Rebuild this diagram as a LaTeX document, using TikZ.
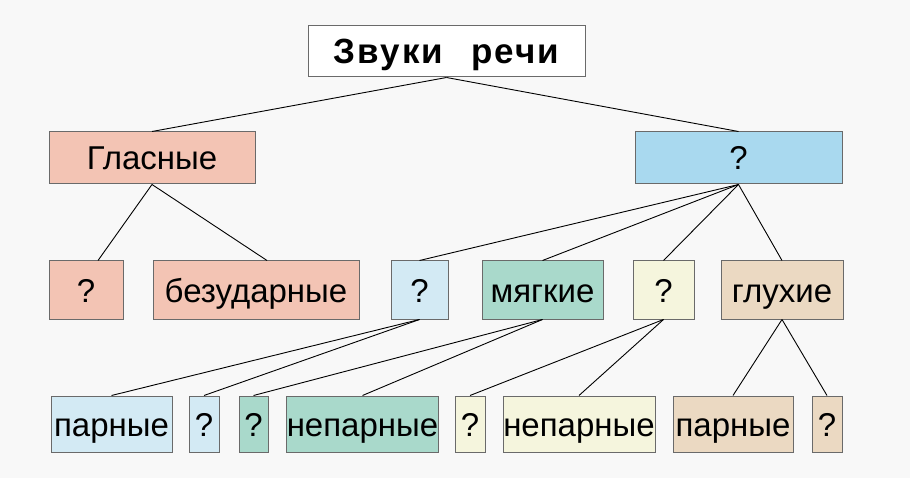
\documentclass[tikz,border=0pt]{standalone}
\usepackage{fontspec}
\setmainfont{Liberation Sans}
\newfontfamily\titlefont[LetterSpace=6]{Liberation Sans Bold}
\definecolor{bg}{HTML}{F8F8F8}
\definecolor{salmon}{HTML}{F3C4B4}
\definecolor{blueB}{HTML}{A9D9EF}
\definecolor{blueL}{HTML}{D3EAF4}
\definecolor{tealc}{HTML}{A9D9CB}
\definecolor{yel}{HTML}{F5F5DD}
\definecolor{tanc}{HTML}{EBD9C2}
\definecolor{edge}{HTML}{6A6A6A}
\begin{document}
\begin{tikzpicture}[x=1pt,y=-1pt,
  box/.style={draw=edge, line width=1pt, inner sep=0pt, text height=31pt, text depth=7pt,
    font=\fontsize{33}{36}\selectfont},
  link/.style={draw=black, line width=0.9pt}]
\fill[bg] (0,0) rectangle (910,478);
\useasboundingbox (0,0) rectangle (910,478);
% top
\node[draw=edge, line width=1pt, fill=white, inner sep=0pt, minimum width=277pt, minimum height=51pt,
  text height=31pt, text depth=7pt, font=\titlefont\fontsize{35}{38}\selectfont] (top) at (446.5,51.5) {Звуки\hspace{28pt}речи};
% level 1
\node[box, fill=salmon, minimum width=206pt, minimum height=52pt] (gl) at (152,158) {Гласные};
\node[box, fill=blueB, minimum width=207pt, minimum height=52pt] (sogl) at (738.5,158) {?};
% level 2
\node[box, fill=salmon, minimum width=74pt, minimum height=58pt] (q1) at (86,290) {?};
\node[box, fill=salmon, minimum width=206pt, minimum height=58pt] (bez) at (256,290) {безударные};
\node[box, fill=blueL, minimum width=57pt, minimum height=58pt] (q2) at (419.5,290) {?};
\node[box, fill=tealc, minimum width=121pt, minimum height=58pt] (myag) at (542.5,290) {мягкие};
\node[box, fill=yel, minimum width=61pt, minimum height=58pt] (q3) at (663.5,290) {?};
\node[box, fill=tanc, minimum width=122pt, minimum height=58pt] (gluh) at (782,290) {глухие};
% level 3
\node[box, fill=blueL, minimum width=121pt, minimum height=56pt] (par1) at (111.5,424) {парные};
\node[box, fill=blueL, minimum width=30pt, minimum height=56pt] (q4) at (204,424) {?};
\node[box, fill=tealc, minimum width=29pt, minimum height=56pt] (q5) at (253.5,424) {?};
\node[box, fill=tealc, minimum width=151pt, minimum height=56pt] (nep1) at (362.5,424) {непарные};
\node[box, fill=yel, minimum width=30pt, minimum height=56pt] (q6) at (470,424) {?};
\node[box, fill=yel, minimum width=152pt, minimum height=56pt] (nep2) at (579,424) {непарные};
\node[box, fill=tanc, minimum width=120pt, minimum height=56pt] (par2) at (733,424) {парные};
\node[box, fill=tanc, minimum width=30pt, minimum height=56pt] (q7) at (827,424) {?};
% connectors
\draw[link] (top.south) -- (gl.north);
\draw[link] (top.south) -- (sogl.north);
\draw[link] (gl.south) -- ([xshift=12pt]q1.north);
\draw[link] (gl.south) -- ([xshift=11pt]bez.north);
\draw[link] (sogl.south) -- (q2.north);
\draw[link] (sogl.south) -- (myag.north);
\draw[link] (sogl.south) -- (q3.north);
\draw[link] (sogl.south) -- (gluh.north);
\draw[link] (q2.south) -- (par1.north);
\draw[link] (q2.south) -- (q4.north);
\draw[link] (myag.south) -- (q5.north);
\draw[link] (myag.south) -- (nep1.north);
\draw[link] (q3.south) -- (q6.north);
\draw[link] (q3.south) -- (nep2.north);
\draw[link] (gluh.south) -- (par2.north);
\draw[link] (gluh.south) -- (q7.north);
\end{tikzpicture}
\end{document}
